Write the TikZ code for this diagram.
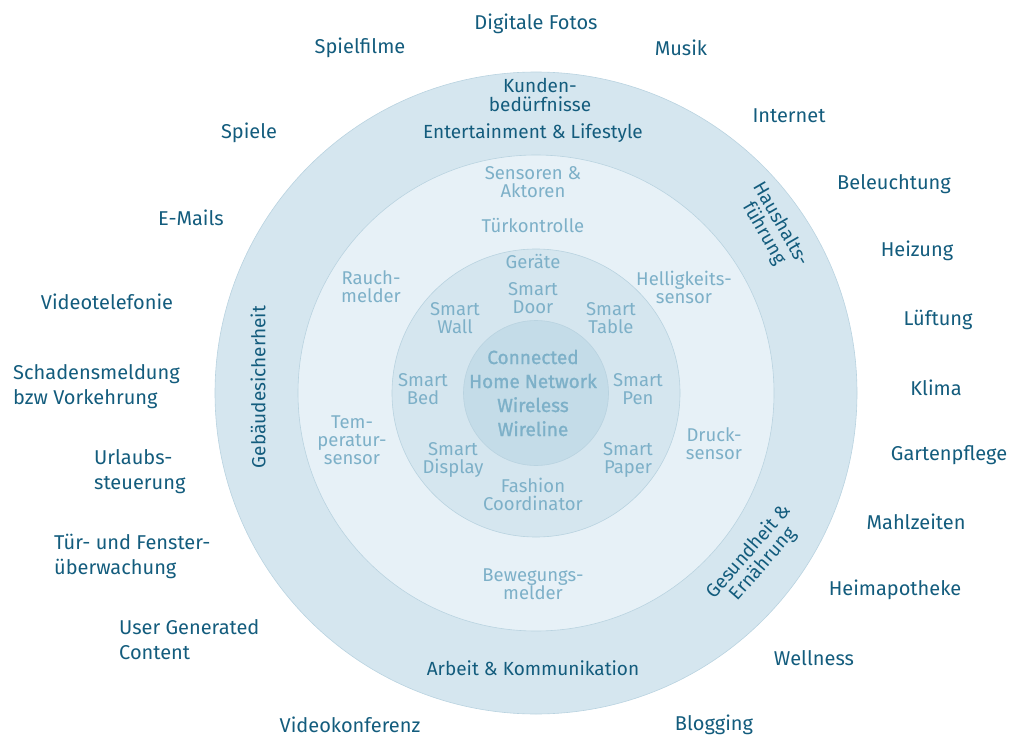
\documentclass[tikz,border=0pt]{standalone}
\usepackage{fontspec}
\setmainfont{Fira Sans}
\newfontfamily\corefont[FakeBold=1.2]{Fira Sans}
\definecolor{ringdark}{HTML}{D5E6EF}
\definecolor{ringlight}{HTML}{E7F1F7}
\definecolor{ringcore}{HTML}{C4DCE8}
\definecolor{ringedge}{HTML}{B9D3E0}
\definecolor{textdark}{HTML}{135C7D}
\definecolor{textlight}{HTML}{7DB0C8}

\begin{document}
\begin{tikzpicture}[x=1pt, y=-1pt,
    outertext/.style = {align=center, inner sep=0pt, text=textdark,
    font=\fontsize{20}{25}\selectfont},
    outerleft/.style = {outertext, align=left, anchor=west},
    ringlabel/.style = {align=center, inner sep=0pt, text=textdark,
    font=\fontsize{19}{19}\selectfont},
    lighttext/.style = {align=center, inner sep=0pt, text=textlight,
    font=\fontsize{18.5}{18}\selectfont},
    coretext/.style = {align=center, inner sep=0pt, text=textlight,
    font=\corefont\fontsize{19}{24}\selectfont},
    ring/.style={draw=ringedge, line width=0.6pt}]

    \useasboundingbox (0,0) rectangle (1014,738);
    \coordinate (c) at (536,393);

    % rings
    \filldraw[ring, fill=ringdark]  (c) circle [radius=321];
    \filldraw[ring, fill=ringlight] (c) circle [radius=238];
    \filldraw[ring, fill=ringdark]  (c) circle [radius=144];
    \filldraw[ring, fill=ringcore]  (c) circle [radius=72.5];

    % core
    \node[coretext] (core) at (533,393)
      {Connected\\Home Network\\Wireless\\Wireline};

    % devices
    \node[lighttext] (geraete) at (533,262) {Geräte};
    \node[lighttext] (door) at (533,298) {Smart\\Door};
    \node[lighttext] (wall) at (455,318) {Smart\\Wall};
    \node[lighttext] (table) at (611,318) {Smart\\Table};
    \node[lighttext] (bed) at (423,389) {Smart\\Bed};
    \node[lighttext] (pen) at (638,389) {Smart\\Pen};
    \node[lighttext] (display) at (453,460) {Smart\\Display};
    \node[lighttext] (paper) at (628,460) {Smart\\Paper};
    \node[lighttext] (fashion) at (533,494) {Fashion\\Coordinator};

    % sensors
    \node[lighttext] (sensoren) at (533,182) {Sensoren \&\\Aktoren};
    \node[lighttext] (tuer) at (533,226) {Türkontrolle};
    \node[lighttext] (rauch) at (371,287) {Rauch-\\melder};
    \node[lighttext] (hell) at (684,287) {Helligkeits-\\sensor};
    \node[lighttext] (temp) at (352,440) {Tem-\\peratur-\\sensor};
    \node[lighttext] (druck) at (714,444) {Druck-\\sensor};
    \node[lighttext] (beweg) at (533,584) {Bewegungs-\\melder};

    % needs
    \node[ringlabel] (kunden) at (540,95) {Kunden-\\bedürfnisse};
    \node[ringlabel] (enter) at (533,133) {Entertainment \& Lifestyle};
    \node[ringlabel, rotate=-60] (haus) at (772,229) {Haushalts-\\führung};
    \node[ringlabel, rotate=49] (gesund) at (756,558) {Gesundheit \&\\Ernährung};
    \node[ringlabel, rotate=90] (gebaeude) at (258,387) {Gebäudesicherheit};
    \node[ringlabel] (arbeit) at (533,668) {Arbeit \& Kommunikation};

    % applications
    \node[outertext] (fotos) at (536,24) {Digitale Fotos};
    \node[outertext] (filme) at (360,48) {Spielfilme};
    \node[outertext] (musik) at (681,48) {Musik};
    \node[outertext] (internet) at (789,116) {Internet};
    \node[outertext] (spiele) at (249,133) {Spiele};
    \node[outertext] (licht) at (894,184) {Beleuchtung};
    \node[outertext] (mails) at (191,218) {E-Mails};
    \node[outertext] (heizung) at (917,251) {Heizung};
    \node[outertext] (videotel) at (107,302) {Videotelefonie};
    \node[outertext] (lueftung) at (938,320) {Lüftung};
    \node[outerleft] (schaden) at (13,387) {Schadensmeldung\\bzw Vorkehrung};
    \node[outertext] (klima) at (936,388) {Klima};
    \node[outertext] (garten) at (949,455) {Gartenpflege};
    \node[outerleft] (urlaub) at (94,472) {Urlaubs-\\steuerung};
    \node[outertext] (mahl) at (916,522) {Mahlzeiten};
    \node[outerleft] (fenster) at (54,556) {Tür- und Fenster-\\überwachung};
    \node[outertext] (apotheke) at (895,590) {Heimapotheke};
    \node[outerleft] (ugc) at (119,640) {User Generated\\Content};
    \node[outertext] (wellness) at (814,658) {Wellness};
    \node[outertext] (videokonf) at (350,725) {Videokonferenz};
    \node[outertext] (blog) at (714,725) {Blogging};

\end{tikzpicture}
\end{document}
